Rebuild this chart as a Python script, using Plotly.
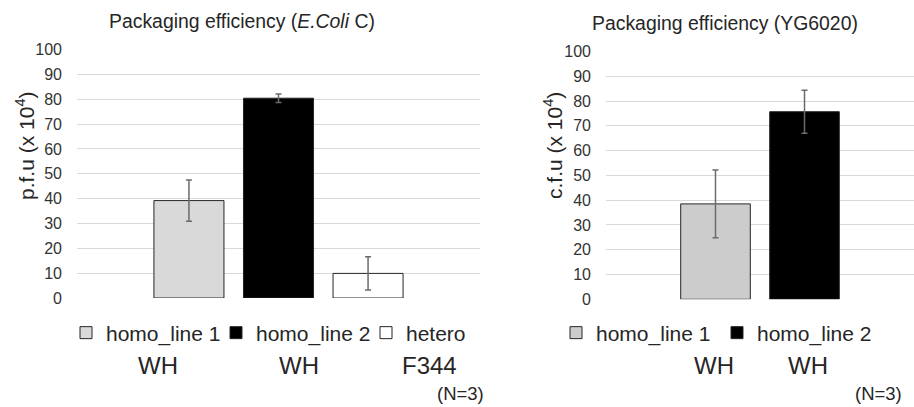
import plotly.graph_objects as go

# ---- data ----
left_series = ["homo_line 1", "homo_line 2", "hetero"]
left_values = [39.2, 80.4, 9.9]
left_errors = [8.3, 1.7, 6.7]
left_strain = ["WH", "WH", "F344"]

right_series = ["homo_line 1", "homo_line 2"]
right_values = [38.5, 75.7]
right_errors = [13.7, 8.7]
right_strain = ["WH", "WH"]

left_colors = ["#d9d9d9", "#000000", "#ffffff"]
right_colors = ["#cccccc", "#000000"]

y_ticks = list(range(0, 101, 10))

FONT = "Arial, Liberation Sans, sans-serif"
W, H = 914, 407

fig = go.Figure()

for name, v, e, c in zip(left_series, left_values, left_errors, left_colors):
    fig.add_trace(go.Bar(
        x=[name], y=[v], name=name, xaxis="x", yaxis="y", legend="legend",
        marker=dict(color=c, line=dict(color="#262626", width=1)),
        error_y=dict(type="data", array=[e], color="#6b6b6b", thickness=1.5, width=3),
    ))

for name, v, e, c in zip(right_series, right_values, right_errors, right_colors):
    fig.add_trace(go.Bar(
        x=[name], y=[v], name=name, xaxis="x2", yaxis="y2", legend="legend2",
        marker=dict(color=c, line=dict(color="#262626", width=1)),
        error_y=dict(type="data", array=[e], color="#6b6b6b", thickness=1.5, width=3),
    ))

def px_x(p):
    return p / W

def px_y(p):
    return 1 - p / H

yaxis_common = dict(
    range=[0, 100.2], tickvals=y_ticks, showgrid=True, gridcolor="#d9d9d9", gridwidth=1,
    zeroline=False, showline=False, ticks="", ticklabelstandoff=14, automargin=False,
    tickfont=dict(family=FONT, size=16, color="#333333"),
    fixedrange=True,
)
xaxis_common = dict(showticklabels=False, showgrid=False, zeroline=False, showline=False,
                    ticks="", automargin=False, fixedrange=True)

leg_font = dict(family=FONT, size=21, color="#262626")

fig.update_layout(
    width=W, height=H,
    margin=dict(l=0, r=0, t=0, b=0, autoexpand=False),
    paper_bgcolor="white", plot_bgcolor="white",
    barmode="overlay", bargap=0.218,
    font=dict(family=FONT, color="#262626"),
    hovermode=False,
    xaxis=dict(domain=[px_x(77), px_x(480)], range=[-1.25, 3.25], anchor="y", **xaxis_common),
    yaxis=dict(domain=[px_y(298), px_y(49)], anchor="x", **yaxis_common),
    xaxis2=dict(domain=[px_x(606), 1.0], range=[-1.23, 2.23], anchor="y2", **xaxis_common),
    yaxis2=dict(domain=[px_y(299.3), px_y(51)], anchor="x2", **yaxis_common),
    legend=dict(orientation="h", x=px_x(66), xanchor="left", y=px_y(333), yanchor="middle",
                font=leg_font, bgcolor="rgba(0,0,0,0)",
                entrywidth=105, traceorder="normal", itemclick=False),
    legend2=dict(orientation="h", x=px_x(556), xanchor="left", y=px_y(333), yanchor="middle",
                 font=leg_font, bgcolor="rgba(0,0,0,0)",
                 entrywidth=116, traceorder="normal", itemclick=False),
    showlegend=True,
)

annotations = [
    dict(text="Packaging efficiency (<i>E.Coli</i> C)", x=px_x(242), y=px_y(21),
         font=dict(size=19.4)),
    dict(text="Packaging efficiency (YG6020)", x=px_x(725), y=px_y(23), font=dict(size=19.4)),
    dict(text="p.f.u (x 10<sup>4</sup>)", x=px_x(25), y=px_y(146), textangle=-90,
         font=dict(size=21)),
    dict(text="c.f.u (x 10<sup>4</sup>)", x=px_x(553), y=px_y(146), textangle=-90,
         font=dict(size=21)),
]
left_label_x = [158, 299, 429]
for s, xp in zip(left_strain, left_label_x):
    annotations.append(dict(text=s, x=px_x(xp), y=px_y(365), font=dict(size=24)))
right_label_x = [714, 808]
for s, xp in zip(right_strain, right_label_x):
    annotations.append(dict(text=s, x=px_x(xp), y=px_y(365), font=dict(size=24)))
annotations.append(dict(text="(N=3)", x=px_x(486), y=px_y(393), xanchor="right", font=dict(size=18.5)))
annotations.append(dict(text="(N=3)", x=px_x(904), y=px_y(393), xanchor="right", font=dict(size=18.5)))

for a in annotations:
    a.setdefault("xanchor", "center")
    a.update(xref="paper", yref="paper", yanchor="middle", showarrow=False)
    a["font"] = dict(family=FONT, color="#262626", **a["font"])
fig.update_layout(annotations=annotations)

fig.write_html("out.html", config={"displayModeBar": False, "staticPlot": True},
               post_script="document.body.style.margin='0';")
